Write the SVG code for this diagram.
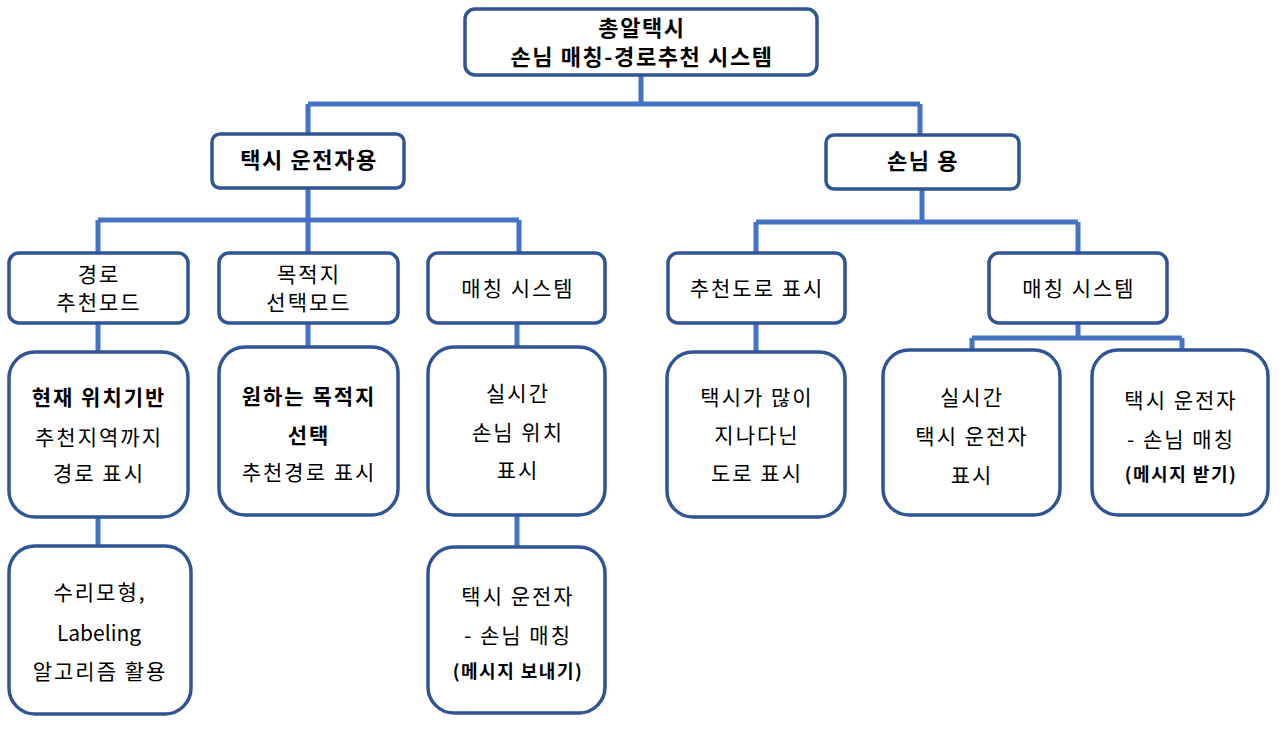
<svg xmlns="http://www.w3.org/2000/svg" width="1286" height="733" viewBox="0 0 1286 733">
<style>
.box{fill:#fff;stroke:#2F5597;stroke-width:3.5}
.conn{fill:none;stroke:#4472C4;stroke-width:5}
text{font-family:"Noto Sans CJK KR","Noto Sans",sans-serif;font-size:21px;letter-spacing:2px;fill:#000;text-anchor:middle}
.b{font-weight:bold}
.h{font-weight:bold;font-size:22px;letter-spacing:1.6px}
.s{font-size:18px;font-weight:bold;letter-spacing:1.5px}
.lat{letter-spacing:0}
</style>
<rect width="1286" height="733" fill="#fff"/>
<g id="connectors">
<path class="conn" d="M641 75V104M308 104H920M308 104V134M920 104V135"/>
<path class="conn" d="M308 188V220M98 220H519M98 220V253M308 220V253M519 220V253"/>
<path class="conn" d="M922 189V222M756 222H1078M756 222V253M1078 222V253"/>
<path class="conn" d="M98 323V352M308 323V347M517 323V347M756 323V352"/>
<path class="conn" d="M1078 323V338M972 338H1182M972 338V350M1182 338V350"/>
<path class="conn" d="M98 517V546M517 515V547"/>
</g>
<g id="root"><rect class="box" x="465" y="9" width="352" height="66" rx="10"/>
<text class="h" x="642" y="36">총알택시</text>
<text class="h" x="642" y="65">손님 매칭-경로추천 시스템</text></g>
<g id="driver"><rect class="box" x="212" y="134" width="192" height="54" rx="8"/>
<text class="h" x="309" y="168">택시 운전자용</text></g>
<g id="passenger"><rect class="box" x="826" y="135" width="193" height="54" rx="8"/>
<text class="h" x="923" y="169">손님 용</text></g>
<g id="route-mode"><rect class="box" x="9" y="253" width="179" height="70" rx="10"/>
<text x="99" y="282">경로</text><text x="99" y="310">추천모드</text></g>
<g id="dest-mode"><rect class="box" x="219" y="253" width="179" height="70" rx="10"/>
<text x="309" y="282">목적지</text><text x="309" y="310">선택모드</text></g>
<g id="match-driver"><rect class="box" x="428" y="253" width="177" height="70" rx="10"/>
<text x="518" y="296">매칭 시스템</text></g>
<g id="road-show"><rect class="box" x="668" y="253" width="177" height="70" rx="10"/>
<text x="757" y="296">추천도로 표시</text></g>
<g id="match-passenger"><rect class="box" x="989" y="253" width="178" height="70" rx="10"/>
<text x="1079" y="296">매칭 시스템</text></g>
<g id="current-loc"><rect class="box" x="9" y="352" width="179" height="165" rx="26"/>
<text class="b" x="99" y="405">현재 위치기반</text><text x="99" y="445">추천지역까지</text><text x="99" y="481">경로 표시</text></g>
<g id="dest-select"><rect class="box" x="219" y="347" width="179" height="168" rx="26"/>
<text class="b" x="309" y="404">원하는 목적지</text><text class="b" x="309" y="443">선택</text><text x="309" y="480">추천경로 표시</text></g>
<g id="realtime-passenger"><rect class="box" x="428" y="347" width="177" height="168" rx="26"/>
<text x="518" y="401">실시간</text><text x="518" y="440">손님 위치</text><text x="518" y="478">표시</text></g>
<g id="busy-road"><rect class="box" x="667" y="352" width="178" height="165" rx="26"/>
<text x="757" y="405">택시가 많이</text><text x="757" y="443">지나다닌</text><text x="757" y="481">도로 표시</text></g>
<g id="realtime-driver"><rect class="box" x="883" y="350" width="177" height="165" rx="26"/>
<text x="972" y="405">실시간</text><text x="972" y="444">택시 운전자</text><text x="972" y="483">표시</text></g>
<g id="receive"><rect class="box" x="1092" y="350" width="176" height="165" rx="26"/>
<text x="1181" y="408">택시 운전자</text><text x="1181" y="447">- 손님 매칭</text><text class="s" x="1181" y="481">(메시지 받기)</text></g>
<g id="algorithm"><rect class="box" x="9" y="546" width="182" height="168" rx="26"/>
<text x="100" y="600">수리모형,</text><text class="lat" x="99" y="641">Labeling</text><text x="100" y="679">알고리즘 활용</text></g>
<g id="send"><rect class="box" x="428" y="547" width="177" height="166" rx="26"/>
<text x="518" y="604">택시 운전자</text><text x="518" y="643">- 손님 매칭</text><text class="s" x="518" y="678">(메시지 보내기)</text></g>
</svg>
